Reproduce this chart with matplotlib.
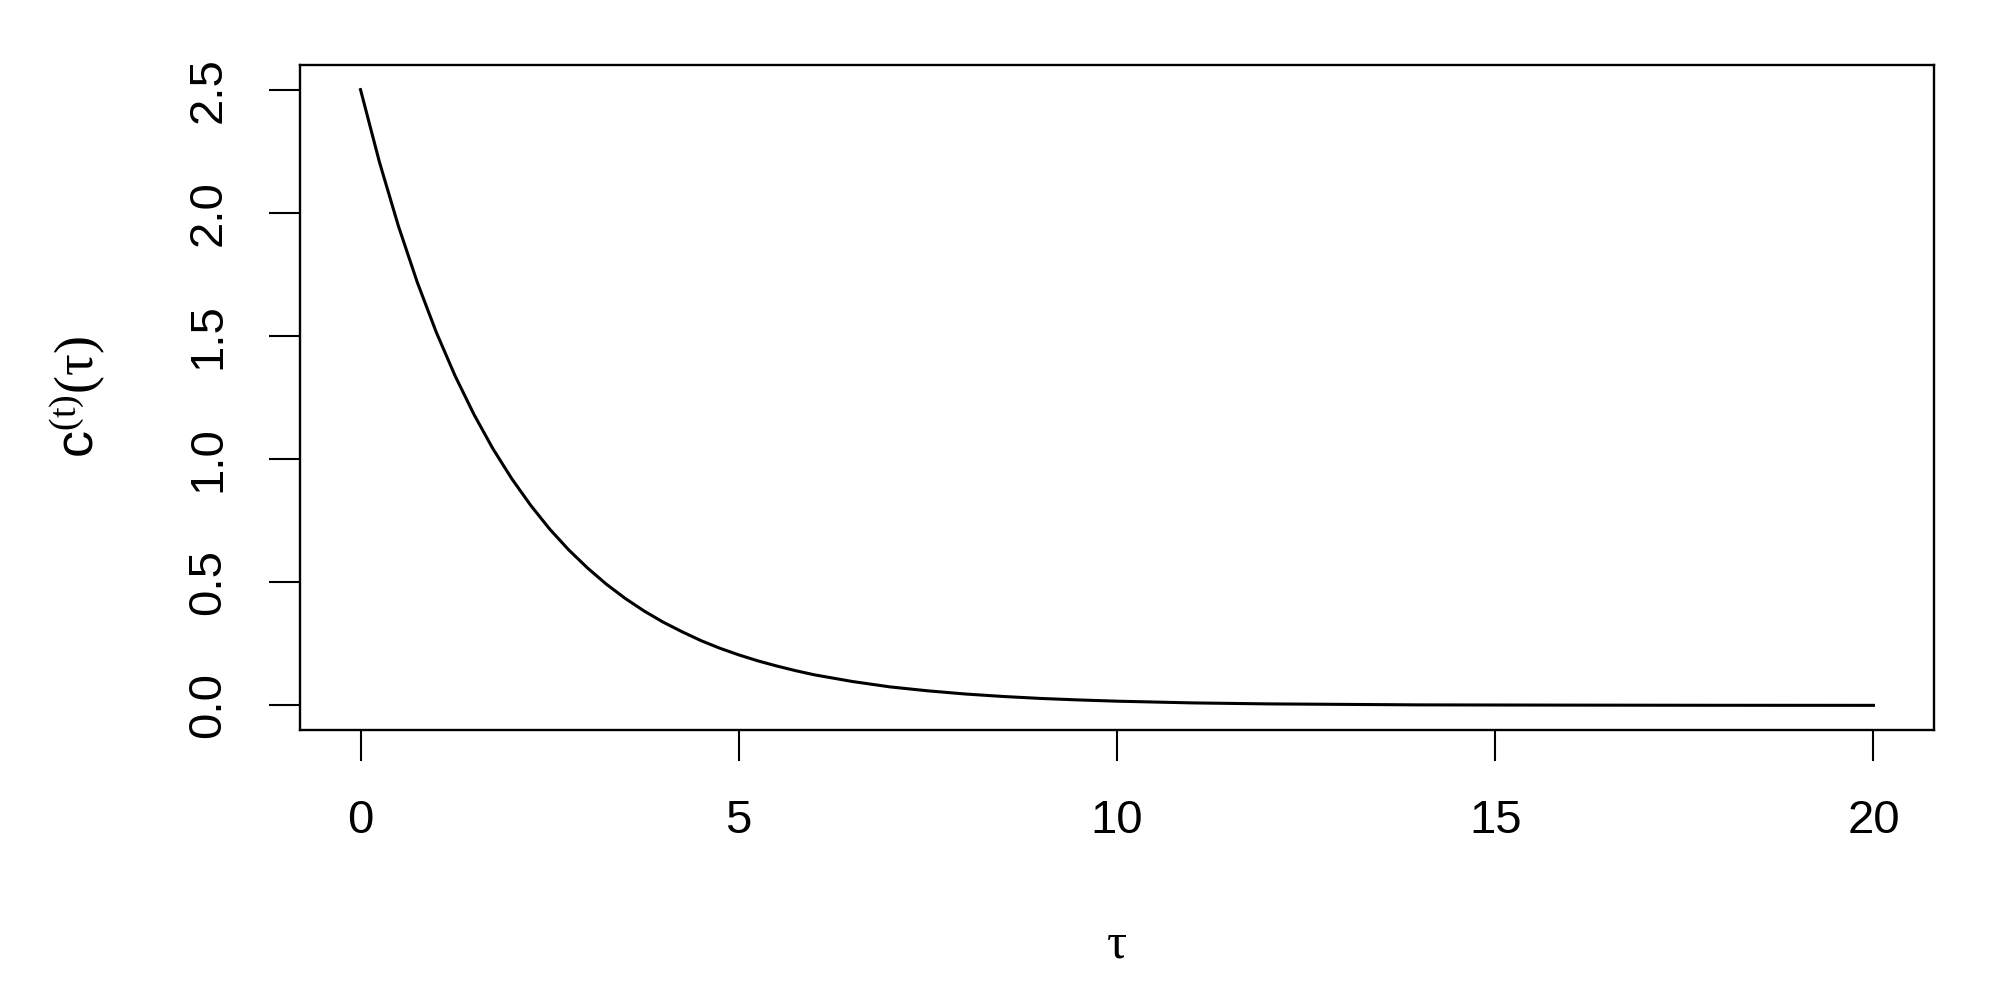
import matplotlib.pyplot as plt

plt.rcParams['font.family'] = ['Liberation Sans', 'DejaVu Sans']
plt.rcParams['mathtext.fontset'] = 'custom'
plt.rcParams['mathtext.rm'] = 'Liberation Serif'
plt.rcParams['mathtext.it'] = 'Liberation Serif:italic'
plt.rcParams['mathtext.sf'] = 'Liberation Sans'

# values
tau = [0, 0.25, 0.5, 0.75, 1.0, 1.25, 1.5, 1.75, 2.0, 2.25, 2.5, 2.75, 3.0,
       3.25, 3.5, 3.75, 4.0, 4.25, 4.5, 4.75, 5.0, 5.25, 5.5, 5.75, 6.0,
       6.5, 7.0, 7.5, 8.0, 8.5, 9.0, 9.5, 10.0, 11.0, 12.0, 13.0, 14.0,
       16.0, 18.0, 20.0]
c_t = [2.50, 2.206, 1.947, 1.718, 1.516, 1.338, 1.181, 1.042, 0.920, 0.812,
       0.716, 0.632, 0.558, 0.492, 0.434, 0.383, 0.338, 0.299, 0.263, 0.232,
       0.205, 0.181, 0.160, 0.141, 0.124, 0.097, 0.075, 0.059, 0.046, 0.036,
       0.028, 0.022, 0.017, 0.010, 0.006, 0.004, 0.002, 0.001, 0.0003,
       0.0001]
x_ticks = [0, 5, 10, 15, 20]
y_ticks = [0.0, 0.5, 1.0, 1.5, 2.0, 2.5]

fig = plt.figure(figsize=(20, 10), dpi=100, facecolor="white")
ax = fig.add_axes([0.15, 0.27, 0.817, 0.665])

ax.plot(tau, c_t, color="black", linewidth=2.2, solid_joinstyle="round")

ax.set_xlim(-0.8, 20.8)
ax.set_ylim(-0.1, 2.6)

for s in ax.spines.values():
    s.set_linewidth(1.7)

ax.set_xticks(x_ticks)
ax.set_xticklabels([str(v) for v in x_ticks])
ax.set_yticks(y_ticks)
ax.set_yticklabels([f"{v:.1f}" for v in y_ticks], rotation=90, va="center")
ax.tick_params(axis="both", direction="out", length=22, width=1.5,
               labelsize=34, pad=28)

ax.set_xlabel(r"$\mathrm{\tau}$", fontsize=36, va="center")
ax.xaxis.set_label_coords(0.5, -0.323)
ax.set_ylabel(r"$\mathsf{c}^{\mathrm{(t)}}\mathrm{(\tau)}$", fontsize=39,
              va="center", ha="center")
ax.yaxis.set_label_coords(-0.136, 0.5)

fig.savefig("out.png", dpi=100, facecolor="white")
